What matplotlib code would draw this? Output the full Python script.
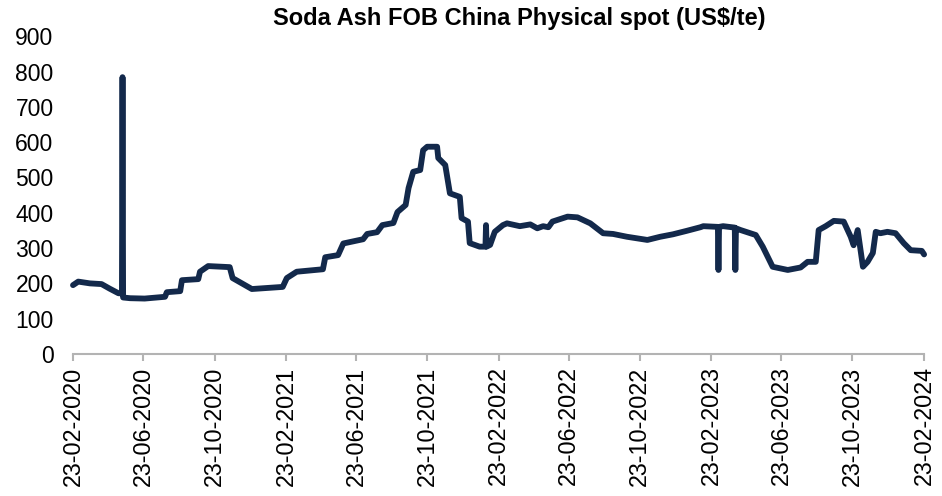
import matplotlib
matplotlib.use("Agg")
from matplotlib import pyplot as plt
import matplotlib.dates as mdates
import pandas as pd

plt.rcParams['font.family'] = ['Liberation Sans', 'DejaVu Sans']

# values
dates = [
    "2020-02-23", "2020-03-03", "2020-03-23", "2020-04-12", "2020-04-26", "2020-05-11",
    "2020-05-17", "2020-05-18", "2020-05-19", "2020-05-31", "2020-06-25", "2020-07-30",
    "2020-08-02", "2020-08-25", "2020-08-28", "2020-09-25", "2020-09-28", "2020-10-12",
    "2020-11-18", "2020-11-23", "2020-12-26", "2021-02-17", "2021-02-24", "2021-03-13",
    "2021-04-27", "2021-05-01", "2021-05-23", "2021-06-01", "2021-07-05", "2021-07-12",
    "2021-07-29", "2021-08-07", "2021-08-26", "2021-09-02", "2021-09-16", "2021-09-21",
    "2021-09-29", "2021-10-11", "2021-10-16", "2021-10-23", "2021-11-09", "2021-11-11",
    "2021-11-23", "2021-12-01", "2021-12-18", "2021-12-21", "2022-01-01", "2022-01-04",
    "2022-01-21", "2022-01-31", "2022-02-01", "2022-02-02", "2022-02-08", "2022-02-16",
    "2022-03-02", "2022-03-09", "2022-03-31", "2022-04-18", "2022-04-30", "2022-05-10",
    "2022-05-19", "2022-05-26", "2022-06-21", "2022-07-08", "2022-07-30", "2022-08-21",
    "2022-09-07", "2022-10-01", "2022-11-05", "2022-11-27", "2022-12-19", "2023-01-12",
    "2023-02-04", "2023-02-09", "2023-03-06", "2023-03-07", "2023-03-08", "2023-03-15",
    "2023-04-04", "2023-04-05", "2023-04-06", "2023-04-14", "2023-05-10", "2023-05-22",
    "2023-06-08", "2023-07-04", "2023-07-26", "2023-08-07", "2023-08-21", "2023-08-26",
    "2023-09-07", "2023-09-21", "2023-10-08", "2023-10-20", "2023-10-25", "2023-11-01",
    "2023-11-10", "2023-11-18", "2023-11-27", "2023-12-02", "2023-12-10", "2023-12-22",
    "2024-01-05", "2024-01-19", "2024-01-31", "2024-02-19", "2024-02-23",
]
prices = [
    195, 205, 200, 198, 185, 172,
    172, 784, 160, 158, 157, 162,
    175, 178, 209, 212, 233, 249,
    246, 215, 184, 190, 215, 233,
    240, 274, 280, 313, 325, 340,
    345, 365, 371, 402, 422, 470,
    516, 521, 577, 587, 587, 555,
    535, 455, 445, 385, 375, 314,
    304, 304, 365, 304, 309, 346,
    365, 370, 362, 367, 356, 362,
    359, 375, 389, 387, 370, 342,
    340, 332, 323, 332, 339, 349,
    359, 362, 360, 238, 360, 362,
    358, 238, 356, 351, 337, 304,
    247, 238, 245, 261, 261, 351,
    362, 377, 375, 332, 308, 351,
    247, 261, 286, 346, 342, 346,
    342, 314, 294, 292, 282,
]
tick_dates = [
    "2020-02-23", "2020-06-23", "2020-10-23", "2021-02-23", "2021-06-23",
    "2021-10-23", "2022-02-23", "2022-06-23", "2022-10-23", "2023-02-23",
    "2023-06-23", "2023-10-23", "2024-02-23",
]
y_ticks = list(range(0, 1000, 100))

x = pd.to_datetime(dates)

fig = plt.figure(figsize=(9.42, 4.96), dpi=100)
ax = fig.add_axes([0.0775, 0.2863, 0.9035, 0.6407])

ax.plot(x, prices, color='#13294b', lw=4.2, solid_joinstyle='round',
        solid_capstyle='round', clip_on=False)

ax.set_xlim(pd.Timestamp("2020-02-23"), pd.Timestamp("2024-02-23"))
ax.set_ylim(0, 900)
ax.set_yticks(y_ticks)
ax.set_xticks(pd.to_datetime(tick_dates))
ax.xaxis.set_major_formatter(mdates.DateFormatter("%d-%m-%Y"))

for s in ['top', 'right', 'left']:
    ax.spines[s].set_visible(False)
ax.spines['bottom'].set_color('#b3b3b3')
ax.spines['bottom'].set_linewidth(1.5)

ax.tick_params(axis='y', length=0, pad=14, labelsize=16.5)
ax.tick_params(axis='x', length=5, width=1.5, color='#b3b3b3', pad=4,
               labelsize=16.8, labelrotation=90)

fig.text(519 / 942, 1 - 18 / 496, "Soda Ash FOB China Physical spot (US$/te)",
         ha='center', va='center', fontsize=17, fontweight='bold')

fig.savefig("out.png", dpi=100)
